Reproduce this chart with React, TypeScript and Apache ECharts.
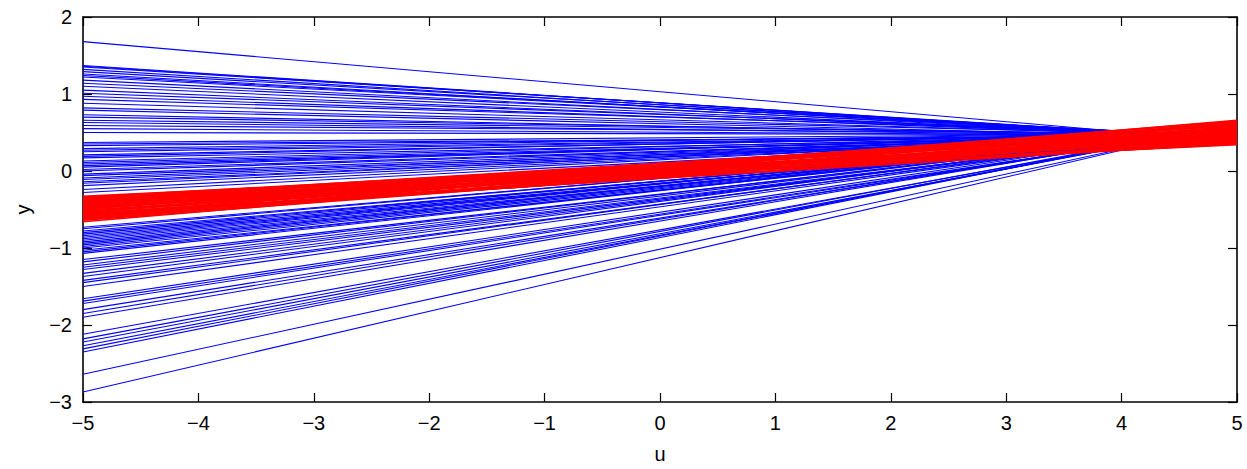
import React, { useEffect, useRef } from "react";
import * as echarts from "echarts";

// u range (x axis)
const uStart = -5;
const uEnd = 5;
const xTicks = [-5, -4, -3, -2, -1, 0, 1, 2, 3, 4, 5];
const yTicks = [-3, -2, -1, 0, 1, 2];

// Blue lines: value at u = -5 and value at u = 5
const blueLeft = [
  1.68, 1.37, 1.36, 1.35, 1.32, 1.29, 1.26, 1.24, 1.22, 1.18,
  1.14, 1.1, 1.05, 1.01, 0.97, 0.93, 0.88, 0.82, 0.79, 0.73,
  0.7, 0.66, 0.63, 0.59, 0.55, 0.5, 0.37, 0.35, 0.33, 0.29,
  0.27, 0.25, 0.21, 0.19, 0.17, 0.13, 0.11, 0.09, 0.07, 0.05,
  0.02, 0.0, -0.04, -0.06, -0.09, -0.11, -0.14, -0.16, -0.19, -0.24,
  -0.28, -0.73, -0.75, -0.78, -0.8, -0.82, -0.84, -0.86, -0.88, -0.9,
  -0.92, -0.94, -0.96, -0.98, -1.0, -1.03, -1.05, -1.07, -1.15, -1.18,
  -1.22, -1.25, -1.28, -1.33, -1.37, -1.42, -1.45, -1.5, -1.66, -1.69,
  -1.72, -1.8, -1.85, -1.9, -2.12, -2.18, -2.22, -2.27, -2.31, -2.35,
  -2.64, -2.87,
];
const blueRight = [
  0.38, 0.4, 0.41, 0.42, 0.4, 0.43, 0.41, 0.43, 0.44, 0.42,
  0.45, 0.43, 0.43, 0.46, 0.44, 0.47, 0.45, 0.46, 0.44, 0.44,
  0.46, 0.47, 0.45, 0.48, 0.46, 0.47, 0.49, 0.46, 0.47, 0.5,
  0.48, 0.48, 0.49, 0.51, 0.47, 0.5, 0.48, 0.48, 0.5, 0.51,
  0.49, 0.49, 0.5, 0.48, 0.52, 0.5, 0.5, 0.52, 0.51, 0.53,
  0.51, 0.54, 0.56, 0.52, 0.54, 0.55, 0.53, 0.53, 0.55, 0.56,
  0.54, 0.54, 0.56, 0.55, 0.54, 0.53, 0.56, 0.56, 0.55, 0.57,
  0.57, 0.55, 0.55, 0.57, 0.58, 0.56, 0.58, 0.57, 0.59, 0.57,
  0.57, 0.58, 0.6, 0.6, 0.59, 0.61, 0.59, 0.6, 0.62, 0.62,
  0.61, 0.62,
];

// Red lines: value at u = -5 and value at u = 5
const redLeft = [
  -0.66, -0.64, -0.62, -0.61, -0.6, -0.58, -0.57, -0.56, -0.55, -0.54,
  -0.53, -0.52, -0.51, -0.5, -0.49, -0.48, -0.47, -0.46, -0.45, -0.44,
  -0.43, -0.42, -0.41, -0.4, -0.39, -0.38, -0.37, -0.36, -0.35, -0.34,
  -0.33, -0.63, -0.59, -0.53, -0.47, -0.44, -0.4, -0.36, -0.57, -0.49,
];
const redRight = [
  0.62, 0.5, 0.66, 0.45, 0.58, 0.4, 0.63, 0.52, 0.36, 0.6,
  0.47, 0.55, 0.42, 0.64, 0.5, 0.38, 0.57, 0.44, 0.61, 0.48,
  0.35, 0.53, 0.46, 0.59, 0.41, 0.51, 0.34, 0.56, 0.43, 0.49,
  0.39, 0.56, 0.48, 0.65, 0.37, 0.54, 0.45, 0.4, 0.44, 0.6,
];

const fmt = (v: number) => (v < 0 ? "\u2212" + Math.abs(v) : String(v));
const FONT = "'Liberation Sans', Arial, Helvetica, sans-serif";

export default function App() {
  const ref = useRef<HTMLDivElement>(null);
  useEffect(() => {
    if (!ref.current) return;
    const chart = echarts.init(ref.current, undefined, { renderer: "svg" });

    const mkLine = (l: number, r: number, color: string, w: number) => ({
      type: "line",
      data: [
        [uStart, l],
        [uEnd, r],
      ],
      xAxisIndex: 0,
      yAxisIndex: 0,
      showSymbol: false,
      symbol: "none",
      silent: true,
      lineStyle: { color, width: w },
    });

    const series: any[] = [];
    blueLeft.forEach((l, i) => series.push(mkLine(l, blueRight[i], "#0000ff", 1.1)));
    redLeft.forEach((l, i) => series.push(mkLine(l, redRight[i], "#ff0000", 1.6)));

    const axisLine = { show: true, onZero: false, lineStyle: { color: "#000", width: 1.6 } };
    const tickStyle = { show: true, inside: true, length: 9, lineStyle: { color: "#000", width: 1.2 } };
    const labelStyle = { color: "#000", fontSize: 20, fontFamily: FONT };
    const nameStyle = { color: "#000", fontSize: 20, fontFamily: FONT };

    chart.setOption({
      animation: false,
      backgroundColor: "#fff",
      grid: { left: 83, right: 10, top: 17, bottom: 66, containLabel: false },
      xAxis: [
        {
          type: "value",
          min: xTicks[0],
          max: xTicks[xTicks.length - 1],
          interval: 1,
          position: "bottom",
          axisLine,
          axisTick: tickStyle,
          splitLine: { show: false },
          axisLabel: { ...labelStyle, margin: 11, formatter: fmt },
          name: "u",
          nameLocation: "middle",
          nameGap: 42,
          nameTextStyle: nameStyle,
        },
        {
          type: "value",
          min: xTicks[0],
          max: xTicks[xTicks.length - 1],
          interval: 1,
          position: "top",
          axisLine,
          axisTick: tickStyle,
          splitLine: { show: false },
          axisLabel: { show: false },
        },
      ],
      yAxis: [
        {
          type: "value",
          min: yTicks[0],
          max: yTicks[yTicks.length - 1],
          interval: 1,
          position: "left",
          axisLine,
          axisTick: tickStyle,
          splitLine: { show: false },
          axisLabel: { ...labelStyle, margin: 11, formatter: fmt },
          name: "y",
          nameLocation: "middle",
          nameGap: 50,
          nameRotate: 90,
          nameTextStyle: nameStyle,
        },
        {
          type: "value",
          min: yTicks[0],
          max: yTicks[yTicks.length - 1],
          interval: 1,
          position: "right",
          axisLine,
          axisTick: tickStyle,
          splitLine: { show: false },
          axisLabel: { show: false },
        },
      ],
      series,
    });
    return () => chart.dispose();
  }, []);

  return (
    <div
      ref={ref}
      style={{ position: "fixed", left: 0, top: 0, width: 1247, height: 469, background: "#fff" }}
    />
  );
}
